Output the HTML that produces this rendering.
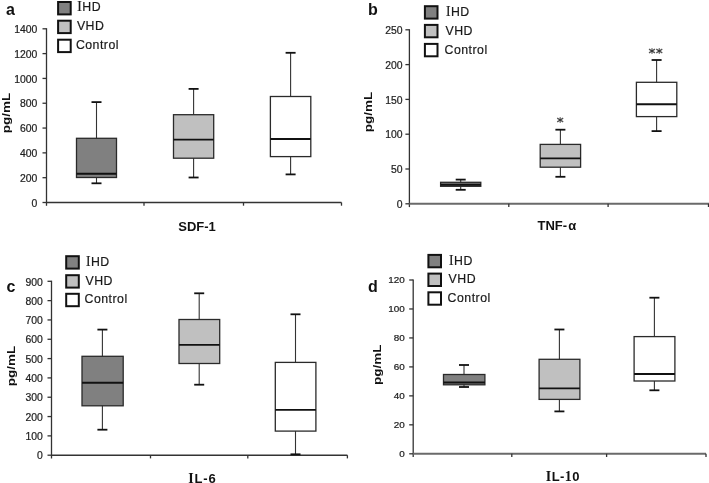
<!DOCTYPE html>
<html><head><meta charset="utf-8"><style>
html,body{margin:0;padding:0;background:#fff;}
body{width:709px;height:483px;overflow:hidden;}
svg{display:block;font-family:"Liberation Sans", sans-serif;will-change:transform;}
</style></head><body>
<svg width="709" height="483" viewBox="0 0 709 483">
<rect width="709" height="483" fill="#fff"/>
<g>
<line x1="46.5" y1="28.2" x2="46.5" y2="205.8" stroke="#333" stroke-width="1.3"/>
<line x1="42.5" y1="202.5" x2="46.5" y2="202.5" stroke="#333" stroke-width="1.3"/>
<text transform="translate(37.3 206.7) scale(1.04 1)" font-size="10" text-anchor="end" fill="#1e1e1e" stroke="#1e1e1e" stroke-width="0.22">0</text>
<line x1="42.5" y1="177.69" x2="46.5" y2="177.69" stroke="#333" stroke-width="1.3"/>
<text transform="translate(37.3 181.89) scale(1.04 1)" font-size="10" text-anchor="end" fill="#1e1e1e" stroke="#1e1e1e" stroke-width="0.22">200</text>
<line x1="42.5" y1="152.87" x2="46.5" y2="152.87" stroke="#333" stroke-width="1.3"/>
<text transform="translate(37.3 157.07) scale(1.04 1)" font-size="10" text-anchor="end" fill="#1e1e1e" stroke="#1e1e1e" stroke-width="0.22">400</text>
<line x1="42.5" y1="128.06" x2="46.5" y2="128.06" stroke="#333" stroke-width="1.3"/>
<text transform="translate(37.3 132.26) scale(1.04 1)" font-size="10" text-anchor="end" fill="#1e1e1e" stroke="#1e1e1e" stroke-width="0.22">600</text>
<line x1="42.5" y1="103.24" x2="46.5" y2="103.24" stroke="#333" stroke-width="1.3"/>
<text transform="translate(37.3 107.44) scale(1.04 1)" font-size="10" text-anchor="end" fill="#1e1e1e" stroke="#1e1e1e" stroke-width="0.22">800</text>
<line x1="42.5" y1="78.43" x2="46.5" y2="78.43" stroke="#333" stroke-width="1.3"/>
<text transform="translate(37.3 82.63) scale(1.04 1)" font-size="10" text-anchor="end" fill="#1e1e1e" stroke="#1e1e1e" stroke-width="0.22">1000</text>
<line x1="42.5" y1="53.61" x2="46.5" y2="53.61" stroke="#333" stroke-width="1.3"/>
<text transform="translate(37.3 57.81) scale(1.04 1)" font-size="10" text-anchor="end" fill="#1e1e1e" stroke="#1e1e1e" stroke-width="0.22">1200</text>
<line x1="42.5" y1="28.8" x2="46.5" y2="28.8" stroke="#333" stroke-width="1.3"/>
<text transform="translate(37.3 33) scale(1.04 1)" font-size="10" text-anchor="end" fill="#1e1e1e" stroke="#1e1e1e" stroke-width="0.22">1400</text>
<line x1="46.5" y1="202.5" x2="341.5" y2="202.5" stroke="#333" stroke-width="1.5"/>
<line x1="144" y1="202.5" x2="144" y2="205.7" stroke="#333" stroke-width="1.3"/>
<line x1="243.5" y1="202.5" x2="243.5" y2="205.7" stroke="#333" stroke-width="1.3"/>
<line x1="341.5" y1="202.5" x2="341.5" y2="205.7" stroke="#333" stroke-width="1.3"/>
<line x1="96.5" y1="102.1" x2="96.5" y2="183.3" stroke="#333" stroke-width="1.1"/>
<line x1="91.5" y1="102.1" x2="101.5" y2="102.1" stroke="#111" stroke-width="1.8"/>
<line x1="91.5" y1="183.3" x2="101.5" y2="183.3" stroke="#111" stroke-width="1.8"/>
<rect x="76.5" y="138.3" width="40" height="39.2" fill="#808080" stroke="#2a2a2a" stroke-width="1.3"/>
<line x1="76.5" y1="173.7" x2="116.5" y2="173.7" stroke="#111" stroke-width="1.9"/>
<line x1="193.6" y1="88.9" x2="193.6" y2="177.5" stroke="#333" stroke-width="1.1"/>
<line x1="188.6" y1="88.9" x2="198.6" y2="88.9" stroke="#111" stroke-width="1.8"/>
<line x1="188.6" y1="177.5" x2="198.6" y2="177.5" stroke="#111" stroke-width="1.8"/>
<rect x="173.5" y="114.7" width="40.2" height="43.5" fill="#c0c0c0" stroke="#2a2a2a" stroke-width="1.3"/>
<line x1="173.5" y1="139.6" x2="213.7" y2="139.6" stroke="#111" stroke-width="1.9"/>
<line x1="290.6" y1="52.8" x2="290.6" y2="174.4" stroke="#333" stroke-width="1.1"/>
<line x1="285.6" y1="52.8" x2="295.6" y2="52.8" stroke="#111" stroke-width="1.8"/>
<line x1="285.6" y1="174.4" x2="295.6" y2="174.4" stroke="#111" stroke-width="1.8"/>
<rect x="270.4" y="96.5" width="40.4" height="60.1" fill="#ffffff" stroke="#2a2a2a" stroke-width="1.3"/>
<line x1="270.4" y1="139" x2="310.8" y2="139" stroke="#111" stroke-width="1.9"/>
<rect x="58.1" y="2" width="12.6" height="12.4" fill="#808080" stroke="#111" stroke-width="2"/>
<text x="77.3" y="11.2" font-size="12.3" letter-spacing="0.5" fill="#1a1a1a" stroke="#1a1a1a" stroke-width="0.2"><tspan font-family="Liberation Serif" font-size="13.6">I</tspan>HD</text>
<rect x="58.1" y="20.7" width="12.6" height="12.4" fill="#c0c0c0" stroke="#111" stroke-width="2"/>
<text x="76.9" y="29.9" font-size="12.3" letter-spacing="0.5" fill="#1a1a1a" stroke="#1a1a1a" stroke-width="0.2">VHD</text>
<rect x="58.1" y="39.7" width="12.6" height="12.4" fill="#ffffff" stroke="#111" stroke-width="2"/>
<text x="75.9" y="48.9" font-size="12.3" letter-spacing="0.5" fill="#1a1a1a" stroke="#1a1a1a" stroke-width="0.2">Control</text>
<text x="6" y="15.3" font-size="16" font-weight="bold" fill="#111">a</text>
<text transform="translate(9.7 113) rotate(-90) scale(1.08 0.9)" font-size="12.5" font-weight="bold" text-anchor="middle" fill="#111">pg/mL</text>
<text x="197" y="231.2" font-size="13" font-weight="bold" text-anchor="middle" fill="#111">SDF-1</text>
</g>
<g>
<line x1="409.4" y1="29.2" x2="409.4" y2="207.1" stroke="#333" stroke-width="1.3"/>
<line x1="405.4" y1="203.8" x2="409.4" y2="203.8" stroke="#333" stroke-width="1.3"/>
<text transform="translate(402.5 208) scale(1.04 1)" font-size="10" text-anchor="end" fill="#1e1e1e" stroke="#1e1e1e" stroke-width="0.22">0</text>
<line x1="405.4" y1="169" x2="409.4" y2="169" stroke="#333" stroke-width="1.3"/>
<text transform="translate(402.5 173.2) scale(1.04 1)" font-size="10" text-anchor="end" fill="#1e1e1e" stroke="#1e1e1e" stroke-width="0.22">50</text>
<line x1="405.4" y1="134.2" x2="409.4" y2="134.2" stroke="#333" stroke-width="1.3"/>
<text transform="translate(402.5 138.4) scale(1.04 1)" font-size="10" text-anchor="end" fill="#1e1e1e" stroke="#1e1e1e" stroke-width="0.22">100</text>
<line x1="405.4" y1="99.4" x2="409.4" y2="99.4" stroke="#333" stroke-width="1.3"/>
<text transform="translate(402.5 103.6) scale(1.04 1)" font-size="10" text-anchor="end" fill="#1e1e1e" stroke="#1e1e1e" stroke-width="0.22">150</text>
<line x1="405.4" y1="64.6" x2="409.4" y2="64.6" stroke="#333" stroke-width="1.3"/>
<text transform="translate(402.5 68.8) scale(1.04 1)" font-size="10" text-anchor="end" fill="#1e1e1e" stroke="#1e1e1e" stroke-width="0.22">200</text>
<line x1="405.4" y1="29.8" x2="409.4" y2="29.8" stroke="#333" stroke-width="1.3"/>
<text transform="translate(402.5 34) scale(1.04 1)" font-size="10" text-anchor="end" fill="#1e1e1e" stroke="#1e1e1e" stroke-width="0.22">250</text>
<line x1="409.4" y1="203.8" x2="709" y2="203.8" stroke="#6a6a6a" stroke-width="2"/>
<line x1="508.8" y1="203.8" x2="508.8" y2="207" stroke="#333" stroke-width="1.3"/>
<line x1="608.1" y1="203.8" x2="608.1" y2="207" stroke="#333" stroke-width="1.3"/>
<line x1="708.5" y1="203.8" x2="708.5" y2="207" stroke="#333" stroke-width="1.3"/>
<line x1="460.7" y1="179.6" x2="460.7" y2="189.8" stroke="#333" stroke-width="1.1"/>
<line x1="455.7" y1="179.6" x2="465.7" y2="179.6" stroke="#111" stroke-width="1.8"/>
<line x1="455.7" y1="189.8" x2="465.7" y2="189.8" stroke="#111" stroke-width="1.8"/>
<rect x="440.6" y="182.3" width="40.2" height="4" fill="#808080" stroke="#2a2a2a" stroke-width="1.3"/>
<line x1="440.6" y1="184.8" x2="480.8" y2="184.8" stroke="#111" stroke-width="1.9"/>
<line x1="560.4" y1="129.7" x2="560.4" y2="176.8" stroke="#333" stroke-width="1.1"/>
<line x1="555.4" y1="129.7" x2="565.4" y2="129.7" stroke="#111" stroke-width="1.8"/>
<line x1="555.4" y1="176.8" x2="565.4" y2="176.8" stroke="#111" stroke-width="1.8"/>
<rect x="540.2" y="144.4" width="40.4" height="22.8" fill="#c0c0c0" stroke="#2a2a2a" stroke-width="1.3"/>
<line x1="540.2" y1="158.4" x2="580.6" y2="158.4" stroke="#111" stroke-width="1.9"/>
<line x1="656.6" y1="60" x2="656.6" y2="131.1" stroke="#333" stroke-width="1.1"/>
<line x1="651.6" y1="60" x2="661.6" y2="60" stroke="#111" stroke-width="1.8"/>
<line x1="651.6" y1="131.1" x2="661.6" y2="131.1" stroke="#111" stroke-width="1.8"/>
<rect x="636.4" y="82.3" width="40.4" height="34.3" fill="#ffffff" stroke="#2a2a2a" stroke-width="1.3"/>
<line x1="636.4" y1="104.3" x2="676.8" y2="104.3" stroke="#111" stroke-width="1.9"/>
<path d="M560.2 117.1L560.2 122.9" stroke="#7a7a7a" stroke-width="1.2" fill="none"/><path d="M557.2 118.1L563.2 121.9M557.2 121.9L563.2 118.1" stroke="#555" stroke-width="1.25" fill="none"/><circle cx="560.2" cy="120" r="1.3" fill="#3a3a3a"/>
<path d="M652 48.1L652 53.9" stroke="#7a7a7a" stroke-width="1.2" fill="none"/><path d="M649 49.1L655 52.9M649 52.9L655 49.1" stroke="#555" stroke-width="1.25" fill="none"/><circle cx="652" cy="51" r="1.3" fill="#3a3a3a"/>
<path d="M659.3 48.1L659.3 53.9" stroke="#7a7a7a" stroke-width="1.2" fill="none"/><path d="M656.3 49.1L662.3 52.9M656.3 52.9L662.3 49.1" stroke="#555" stroke-width="1.25" fill="none"/><circle cx="659.3" cy="51" r="1.3" fill="#3a3a3a"/>
<rect x="424.9" y="6.2" width="12.6" height="12.4" fill="#808080" stroke="#111" stroke-width="2"/>
<text x="445.9" y="15.8" font-size="12.3" letter-spacing="0.5" fill="#1a1a1a" stroke="#1a1a1a" stroke-width="0.2"><tspan font-family="Liberation Serif" font-size="13.6">I</tspan>HD</text>
<rect x="424.9" y="24.9" width="12.6" height="12.4" fill="#c0c0c0" stroke="#111" stroke-width="2"/>
<text x="445.5" y="34.5" font-size="12.3" letter-spacing="0.5" fill="#1a1a1a" stroke="#1a1a1a" stroke-width="0.2">VHD</text>
<rect x="424.9" y="43.9" width="12.6" height="12.4" fill="#ffffff" stroke="#111" stroke-width="2"/>
<text x="444.5" y="53.5" font-size="12.3" letter-spacing="0.5" fill="#1a1a1a" stroke="#1a1a1a" stroke-width="0.2">Control</text>
<text x="368" y="15.3" font-size="16" font-weight="bold" fill="#111">b</text>
<text transform="translate(372.2 112) rotate(-90) scale(1.08 0.9)" font-size="12.5" font-weight="bold" text-anchor="middle" fill="#111">pg/mL</text>
<text x="556.9" y="230.3" font-size="13" font-weight="bold" text-anchor="middle" fill="#111">TNF-<tspan dx="1.2">α</tspan></text>
</g>
<g>
<line x1="51.5" y1="280.7" x2="51.5" y2="458.5" stroke="#333" stroke-width="1.3"/>
<line x1="47.5" y1="455.2" x2="51.5" y2="455.2" stroke="#333" stroke-width="1.3"/>
<text transform="translate(42.8 459.4) scale(1.04 1)" font-size="10" text-anchor="end" fill="#1e1e1e" stroke="#1e1e1e" stroke-width="0.22">0</text>
<line x1="47.5" y1="435.88" x2="51.5" y2="435.88" stroke="#333" stroke-width="1.3"/>
<text transform="translate(42.8 440.08) scale(1.04 1)" font-size="10" text-anchor="end" fill="#1e1e1e" stroke="#1e1e1e" stroke-width="0.22">100</text>
<line x1="47.5" y1="416.56" x2="51.5" y2="416.56" stroke="#333" stroke-width="1.3"/>
<text transform="translate(42.8 420.76) scale(1.04 1)" font-size="10" text-anchor="end" fill="#1e1e1e" stroke="#1e1e1e" stroke-width="0.22">200</text>
<line x1="47.5" y1="397.23" x2="51.5" y2="397.23" stroke="#333" stroke-width="1.3"/>
<text transform="translate(42.8 401.43) scale(1.04 1)" font-size="10" text-anchor="end" fill="#1e1e1e" stroke="#1e1e1e" stroke-width="0.22">300</text>
<line x1="47.5" y1="377.91" x2="51.5" y2="377.91" stroke="#333" stroke-width="1.3"/>
<text transform="translate(42.8 382.11) scale(1.04 1)" font-size="10" text-anchor="end" fill="#1e1e1e" stroke="#1e1e1e" stroke-width="0.22">400</text>
<line x1="47.5" y1="358.59" x2="51.5" y2="358.59" stroke="#333" stroke-width="1.3"/>
<text transform="translate(42.8 362.79) scale(1.04 1)" font-size="10" text-anchor="end" fill="#1e1e1e" stroke="#1e1e1e" stroke-width="0.22">500</text>
<line x1="47.5" y1="339.27" x2="51.5" y2="339.27" stroke="#333" stroke-width="1.3"/>
<text transform="translate(42.8 343.47) scale(1.04 1)" font-size="10" text-anchor="end" fill="#1e1e1e" stroke="#1e1e1e" stroke-width="0.22">600</text>
<line x1="47.5" y1="319.94" x2="51.5" y2="319.94" stroke="#333" stroke-width="1.3"/>
<text transform="translate(42.8 324.14) scale(1.04 1)" font-size="10" text-anchor="end" fill="#1e1e1e" stroke="#1e1e1e" stroke-width="0.22">700</text>
<line x1="47.5" y1="300.62" x2="51.5" y2="300.62" stroke="#333" stroke-width="1.3"/>
<text transform="translate(42.8 304.82) scale(1.04 1)" font-size="10" text-anchor="end" fill="#1e1e1e" stroke="#1e1e1e" stroke-width="0.22">800</text>
<line x1="47.5" y1="281.3" x2="51.5" y2="281.3" stroke="#333" stroke-width="1.3"/>
<text transform="translate(42.8 285.5) scale(1.04 1)" font-size="10" text-anchor="end" fill="#1e1e1e" stroke="#1e1e1e" stroke-width="0.22">900</text>
<line x1="51.5" y1="455.2" x2="347.4" y2="455.2" stroke="#333" stroke-width="1.5"/>
<line x1="150.5" y1="455.2" x2="150.5" y2="458.4" stroke="#333" stroke-width="1.3"/>
<line x1="247.8" y1="455.2" x2="247.8" y2="458.4" stroke="#333" stroke-width="1.3"/>
<line x1="347.4" y1="455.2" x2="347.4" y2="458.4" stroke="#333" stroke-width="1.3"/>
<line x1="102.4" y1="329.6" x2="102.4" y2="429.7" stroke="#333" stroke-width="1.1"/>
<line x1="97.4" y1="329.6" x2="107.4" y2="329.6" stroke="#111" stroke-width="1.8"/>
<line x1="97.4" y1="429.7" x2="107.4" y2="429.7" stroke="#111" stroke-width="1.8"/>
<rect x="82" y="356.3" width="41.2" height="49.5" fill="#808080" stroke="#2a2a2a" stroke-width="1.3"/>
<line x1="82" y1="382.8" x2="123.2" y2="382.8" stroke="#111" stroke-width="1.9"/>
<line x1="199.2" y1="293.3" x2="199.2" y2="384.7" stroke="#333" stroke-width="1.1"/>
<line x1="194.2" y1="293.3" x2="204.2" y2="293.3" stroke="#111" stroke-width="1.8"/>
<line x1="194.2" y1="384.7" x2="204.2" y2="384.7" stroke="#111" stroke-width="1.8"/>
<rect x="179" y="319.5" width="40.7" height="44" fill="#c0c0c0" stroke="#2a2a2a" stroke-width="1.3"/>
<line x1="179" y1="344.9" x2="219.7" y2="344.9" stroke="#111" stroke-width="1.9"/>
<line x1="295.5" y1="314.3" x2="295.5" y2="454.3" stroke="#333" stroke-width="1.1"/>
<line x1="290.5" y1="314.3" x2="300.5" y2="314.3" stroke="#111" stroke-width="1.8"/>
<line x1="290.5" y1="454.3" x2="300.5" y2="454.3" stroke="#111" stroke-width="1.8"/>
<rect x="275.3" y="362.4" width="40.6" height="68.7" fill="#ffffff" stroke="#2a2a2a" stroke-width="1.3"/>
<line x1="275.3" y1="409.9" x2="315.9" y2="409.9" stroke="#111" stroke-width="1.9"/>
<rect x="66.2" y="256.2" width="12.6" height="12.4" fill="#808080" stroke="#111" stroke-width="2"/>
<text x="85.9" y="265.8" font-size="12.3" letter-spacing="0.5" fill="#1a1a1a" stroke="#1a1a1a" stroke-width="0.2"><tspan font-family="Liberation Serif" font-size="13.6">I</tspan>HD</text>
<rect x="66.2" y="275.2" width="12.6" height="12.4" fill="#c0c0c0" stroke="#111" stroke-width="2"/>
<text x="85.5" y="284.8" font-size="12.3" letter-spacing="0.5" fill="#1a1a1a" stroke="#1a1a1a" stroke-width="0.2">VHD</text>
<rect x="66.2" y="293.8" width="12.6" height="12.4" fill="#ffffff" stroke="#111" stroke-width="2"/>
<text x="84.5" y="303.4" font-size="12.3" letter-spacing="0.5" fill="#1a1a1a" stroke="#1a1a1a" stroke-width="0.2">Control</text>
<text x="6.5" y="291.6" font-size="16" font-weight="bold" fill="#111">c</text>
<text transform="translate(14.9 366) rotate(-90) scale(1.08 0.9)" font-size="12.5" font-weight="bold" text-anchor="middle" fill="#111">pg/mL</text>
<text x="188.3" y="482.7" font-size="13" font-weight="bold" letter-spacing="0.8" fill="#111"><tspan font-family="Liberation Serif" font-size="14">I</tspan>L-6</text>
</g>
<g>
<line x1="413.2" y1="279.4" x2="413.2" y2="457.1" stroke="#333" stroke-width="1.3"/>
<line x1="409.2" y1="453.8" x2="413.2" y2="453.8" stroke="#333" stroke-width="1.3"/>
<text transform="translate(404.8 457.2) scale(1.1 1)" font-size="9" text-anchor="end" fill="#1e1e1e" stroke="#1e1e1e" stroke-width="0.22">0</text>
<line x1="409.2" y1="424.83" x2="413.2" y2="424.83" stroke="#333" stroke-width="1.3"/>
<text transform="translate(404.8 428.23) scale(1.1 1)" font-size="9" text-anchor="end" fill="#1e1e1e" stroke="#1e1e1e" stroke-width="0.22">20</text>
<line x1="409.2" y1="395.87" x2="413.2" y2="395.87" stroke="#333" stroke-width="1.3"/>
<text transform="translate(404.8 399.27) scale(1.1 1)" font-size="9" text-anchor="end" fill="#1e1e1e" stroke="#1e1e1e" stroke-width="0.22">40</text>
<line x1="409.2" y1="366.9" x2="413.2" y2="366.9" stroke="#333" stroke-width="1.3"/>
<text transform="translate(404.8 370.3) scale(1.1 1)" font-size="9" text-anchor="end" fill="#1e1e1e" stroke="#1e1e1e" stroke-width="0.22">60</text>
<line x1="409.2" y1="337.93" x2="413.2" y2="337.93" stroke="#333" stroke-width="1.3"/>
<text transform="translate(404.8 341.33) scale(1.1 1)" font-size="9" text-anchor="end" fill="#1e1e1e" stroke="#1e1e1e" stroke-width="0.22">80</text>
<line x1="409.2" y1="308.97" x2="413.2" y2="308.97" stroke="#333" stroke-width="1.3"/>
<text transform="translate(404.8 312.37) scale(1.1 1)" font-size="9" text-anchor="end" fill="#1e1e1e" stroke="#1e1e1e" stroke-width="0.22">100</text>
<line x1="409.2" y1="280" x2="413.2" y2="280" stroke="#333" stroke-width="1.3"/>
<text transform="translate(404.8 283.4) scale(1.1 1)" font-size="9" text-anchor="end" fill="#1e1e1e" stroke="#1e1e1e" stroke-width="0.22">120</text>
<line x1="413.2" y1="453.8" x2="706" y2="453.8" stroke="#6a6a6a" stroke-width="2"/>
<line x1="511.8" y1="453.8" x2="511.8" y2="457" stroke="#333" stroke-width="1.3"/>
<line x1="606.6" y1="453.8" x2="606.6" y2="457" stroke="#333" stroke-width="1.3"/>
<line x1="706" y1="453.8" x2="706" y2="457" stroke="#333" stroke-width="1.3"/>
<line x1="464" y1="365" x2="464" y2="387" stroke="#333" stroke-width="1.1"/>
<line x1="459" y1="365" x2="469" y2="365" stroke="#111" stroke-width="1.8"/>
<line x1="459" y1="387" x2="469" y2="387" stroke="#111" stroke-width="1.8"/>
<rect x="443.5" y="374.5" width="41.4" height="10.3" fill="#808080" stroke="#2a2a2a" stroke-width="1.3"/>
<line x1="443.5" y1="382.5" x2="484.9" y2="382.5" stroke="#111" stroke-width="1.9"/>
<line x1="559.4" y1="329.5" x2="559.4" y2="411.4" stroke="#333" stroke-width="1.1"/>
<line x1="554.4" y1="329.5" x2="564.4" y2="329.5" stroke="#111" stroke-width="1.8"/>
<line x1="554.4" y1="411.4" x2="564.4" y2="411.4" stroke="#111" stroke-width="1.8"/>
<rect x="539.1" y="359.3" width="40.8" height="40.1" fill="#c0c0c0" stroke="#2a2a2a" stroke-width="1.3"/>
<line x1="539.1" y1="388.4" x2="579.9" y2="388.4" stroke="#111" stroke-width="1.9"/>
<line x1="654.4" y1="297.7" x2="654.4" y2="390.3" stroke="#333" stroke-width="1.1"/>
<line x1="649.4" y1="297.7" x2="659.4" y2="297.7" stroke="#111" stroke-width="1.8"/>
<line x1="649.4" y1="390.3" x2="659.4" y2="390.3" stroke="#111" stroke-width="1.8"/>
<rect x="634.1" y="336.6" width="40.8" height="44.4" fill="#ffffff" stroke="#2a2a2a" stroke-width="1.3"/>
<line x1="634.1" y1="374" x2="674.9" y2="374" stroke="#111" stroke-width="1.9"/>
<rect x="428.4" y="254.9" width="12.6" height="12.4" fill="#808080" stroke="#111" stroke-width="2"/>
<text x="449" y="264.5" font-size="12.3" letter-spacing="0.5" fill="#1a1a1a" stroke="#1a1a1a" stroke-width="0.2"><tspan font-family="Liberation Serif" font-size="13.6">I</tspan>HD</text>
<rect x="428.4" y="273.6" width="12.6" height="12.4" fill="#c0c0c0" stroke="#111" stroke-width="2"/>
<text x="448.6" y="283.2" font-size="12.3" letter-spacing="0.5" fill="#1a1a1a" stroke="#1a1a1a" stroke-width="0.2">VHD</text>
<rect x="428.4" y="292.3" width="12.6" height="12.4" fill="#ffffff" stroke="#111" stroke-width="2"/>
<text x="447.6" y="301.9" font-size="12.3" letter-spacing="0.5" fill="#1a1a1a" stroke="#1a1a1a" stroke-width="0.2">Control</text>
<text x="368" y="291.6" font-size="16" font-weight="bold" fill="#111">d</text>
<text transform="translate(380.9 364.7) rotate(-90) scale(1.08 0.9)" font-size="12.5" font-weight="bold" text-anchor="middle" fill="#111">pg/mL</text>
<text x="545.8" y="480.7" font-size="13" font-weight="bold" letter-spacing="0.4" fill="#111"><tspan font-family="Liberation Serif" font-size="14">I</tspan>L-<tspan font-family="Liberation Serif" font-size="14">1</tspan>0</text>
</g>
</svg>
</body></html>
